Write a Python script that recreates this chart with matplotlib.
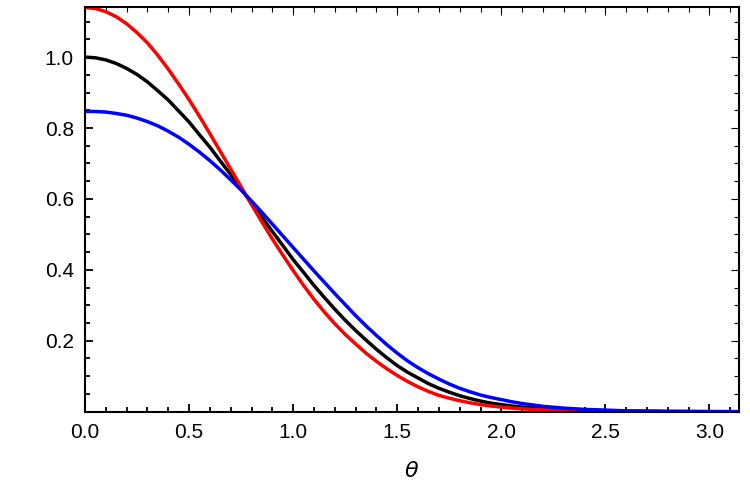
import matplotlib
matplotlib.use("Agg")
import matplotlib.pyplot as plt
from matplotlib.ticker import MultipleLocator, FixedLocator, FormatStrFormatter

# Values
theta = [0.00, 0.05, 0.10, 0.15, 0.20, 0.25, 0.30, 0.35, 0.40, 0.45, 0.50, 0.55,
         0.60, 0.65, 0.70, 0.75, 0.80, 0.85, 0.90, 0.95, 1.00, 1.05, 1.10, 1.15,
         1.20, 1.25, 1.30, 1.35, 1.40, 1.45, 1.50, 1.55, 1.60, 1.65, 1.70, 1.75,
         1.80, 1.85, 1.90, 1.95, 2.00, 2.05, 2.10, 2.15, 2.20, 2.30, 2.40, 2.60,
         2.80, 3.00, 3.1416]

black_vals = [1.000, 0.998, 0.992, 0.982, 0.968, 0.951, 0.930, 0.905, 0.879, 0.848,
              0.817, 0.781, 0.746, 0.707, 0.669, 0.628, 0.589, 0.548, 0.508, 0.469,
              0.429, 0.393, 0.356, 0.322, 0.289, 0.258, 0.229, 0.202, 0.176, 0.152,
              0.130, 0.111, 0.095, 0.079, 0.066, 0.055, 0.045, 0.037, 0.030, 0.024,
              0.020, 0.016, 0.013, 0.011, 0.009, 0.006, 0.004, 0.0015, 0.0005, 0.0001,
              0.0]

red_vals = [1.140, 1.137, 1.128, 1.114, 1.094, 1.069, 1.040, 1.005, 0.966, 0.924,
            0.880, 0.833, 0.784, 0.734, 0.684, 0.634, 0.584, 0.535, 0.487, 0.442,
            0.398, 0.356, 0.317, 0.281, 0.248, 0.218, 0.191, 0.165, 0.142, 0.121,
            0.102, 0.085, 0.070, 0.057, 0.046, 0.038, 0.031, 0.025, 0.020, 0.016,
            0.013, 0.010, 0.008, 0.0065, 0.005, 0.003, 0.002, 0.0008, 0.0003, 0.0,
            0.0]

blue_vals = [0.847, 0.8465, 0.845, 0.841, 0.836, 0.828, 0.818, 0.806, 0.791, 0.774,
             0.754, 0.732, 0.708, 0.682, 0.654, 0.625, 0.594, 0.562, 0.529, 0.496,
             0.463, 0.430, 0.397, 0.365, 0.333, 0.302, 0.271, 0.242, 0.215, 0.189,
             0.165, 0.143, 0.124, 0.107, 0.092, 0.078, 0.066, 0.056, 0.047, 0.040,
             0.034, 0.028, 0.023, 0.019, 0.015, 0.010, 0.0065, 0.0024, 0.0008, 0.0002,
             0.0]

x_major = [0.0, 0.5, 1.0, 1.5, 2.0, 2.5, 3.0]
y_major = [0.2, 0.4, 0.6, 0.8, 1.0]

plt.rcParams['font.family'] = ['Liberation Sans', 'DejaVu Sans']

fig = plt.figure(figsize=(7.5, 4.96), dpi=100)
ax = fig.add_axes([0.1133, 0.170, 0.872, 0.815])

ax.plot(theta, black_vals, color='black', lw=2.5, solid_joinstyle='round')
ax.plot(theta, red_vals, color=(1, 0, 0), lw=2.5, solid_joinstyle='round')
ax.plot(theta, blue_vals, color=(0, 0, 1), lw=2.5, solid_joinstyle='round')

ax.set_xlim(0, 3.14159)
ax.set_ylim(0, 1.14)

ax.xaxis.set_major_locator(FixedLocator(x_major))
ax.xaxis.set_minor_locator(MultipleLocator(0.1))
ax.yaxis.set_major_locator(FixedLocator(y_major))
ax.yaxis.set_minor_locator(MultipleLocator(0.05))
ax.xaxis.set_major_formatter(FormatStrFormatter('%.1f'))
ax.yaxis.set_major_formatter(FormatStrFormatter('%.1f'))

ax.tick_params(which='both', direction='in', labelsize=15, width=1.3, color='black')
ax.tick_params(which='major', length=6, pad=8)
ax.tick_params(which='minor', length=3.5)
ax.tick_params(which='both', top=True, right=True)

for s in ax.spines.values():
    s.set_linewidth(1.5)

fig.canvas.draw()
for t in ax.xaxis.get_major_ticks() + ax.xaxis.get_minor_ticks() + \
         ax.yaxis.get_major_ticks() + ax.yaxis.get_minor_ticks():
    t.tick2line.set_color('#c8c8c8')
    t.tick2line.set_markeredgewidth(0.8)

ax.set_xlabel(r'$\theta$', fontsize=16, labelpad=14)

fig.savefig('out.png', dpi=100)
